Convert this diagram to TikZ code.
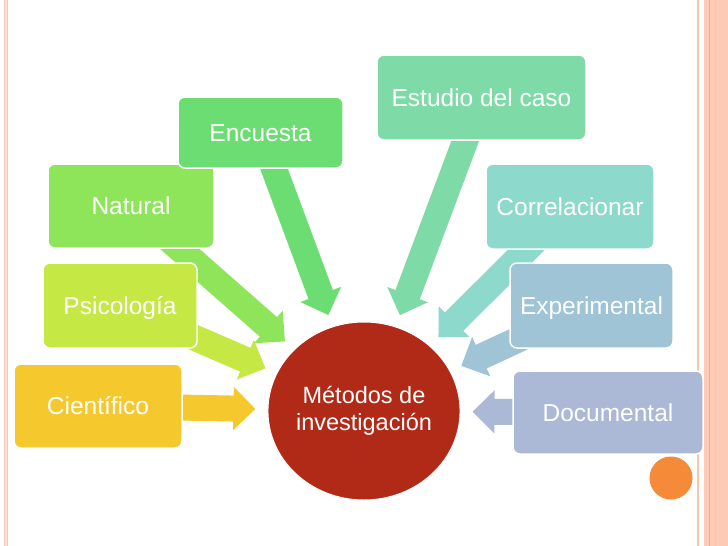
\documentclass[tikz,border=0pt]{standalone}
\usepackage{fontspec}
\setmainfont{Liberation Sans}
\usetikzlibrary{arrows.meta,shapes.geometric}

\definecolor{cieCol}{RGB}{245,201,46}
\definecolor{psiCol}{RGB}{198,232,68}
\definecolor{natCol}{RGB}{142,229,90}
\definecolor{encCol}{RGB}{108,221,114}
\definecolor{estCol}{RGB}{126,219,168}
\definecolor{corCol}{RGB}{141,217,204}
\definecolor{expCol}{RGB}{158,196,214}
\definecolor{docCol}{RGB}{171,184,214}
\definecolor{hubCol}{RGB}{177,42,24}
\definecolor{dotCol}{RGB}{245,138,56}
\definecolor{rimCol}{RGB}{252,202,181}
\definecolor{rimLine}{RGB}{240,170,140}

\pgfdeclarelayer{bg}
\pgfsetlayers{bg,main}

\begin{document}
\begin{tikzpicture}[
  x=1pt, y=-1pt,
  box/.style={draw=white, line width=1.5pt, rounded corners=7pt, text=white,
    font=\fontsize{24.5}{28}\selectfont, inner sep=0pt,
    text height=17.5pt, text depth=0pt},
  wh/.style 2 args={minimum width=#1pt, minimum height=#2pt},
  hub/.style={ellipse, draw=white, line width=1pt, fill=hubCol, text=white,
    minimum width=192pt, minimum height=178pt, align=center, inner sep=0pt,
    font=\fontsize{23.5}{27}\selectfont},
  link/.style={line width=26pt, shorten >=12pt,
    -{Triangle[length=22pt, width=42pt]}},
]
  \useasboundingbox (0,0) rectangle (728,546);

  \node[box, fill=cieCol, wh={168}{84}] (cie) at (98,406) {Científico};
  \node[box, fill=psiCol, wh={154}{85}] (psi) at (120,305.5) {Psicología};
  \node[box, fill=natCol, wh={166}{84}] (nat) at (131,206) {Natural};
  \node[box, fill=encCol, wh={165}{71}] (enc) at (260.5,132.5) {Encuesta};
  \node[box, fill=estCol, wh={209}{85}] (est) at (481.5,97.5) {Estudio del caso};
  \node[box, fill=corCol, wh={168}{85}] (cor) at (570,206.5) {Correlacionar};
  \node[box, fill=expCol, wh={163}{85}] (exp) at (591.5,305.5) {Experimental};
  \node[box, fill=docCol, wh={190}{83}] (doc) at (608,412.5) {Documental};
  \node[hub] (hub) at (364,411) {Métodos de\\investigación};

  \fill[dotCol] (671,478) circle[radius=21.5pt];

  \begin{pgfonlayer}{bg}
    \fill[white] (0,0) rectangle (728,546);
    \fill[rimCol!55] (4,0) rectangle (8,546);
    \draw[rimCol!90!rimLine, line width=1pt] (4.5,0) -- (4.5,546) (7.5,0) -- (7.5,546);
    \draw[rimCol!85!rimLine, line width=2.5pt] (697.75,0) -- (697.75,546);
    \fill[rimCol] (704,0) rectangle (728,546);
    \draw[rimLine, line width=1.2pt] (709.5,0) -- (709.5,546);
    \draw[rimCol!80!rimLine, line width=0.8pt] (715.5,0) -- (715.5,546);

    \draw[link, cieCol] (cie.center) -- (hub);
    \draw[link, psiCol] (psi.center) -- (hub);
    \draw[link, natCol] (nat.center) -- (hub);
    \draw[link, encCol] (enc.center) -- (hub);
    \draw[link, estCol] (est.center) -- (hub);
    \draw[link, corCol] (cor.center) -- (hub);
    \draw[link, expCol] (exp.center) -- (hub);
    \draw[link, docCol] (doc.center) -- (hub);
  \end{pgfonlayer}
\end{tikzpicture}
\end{document}
